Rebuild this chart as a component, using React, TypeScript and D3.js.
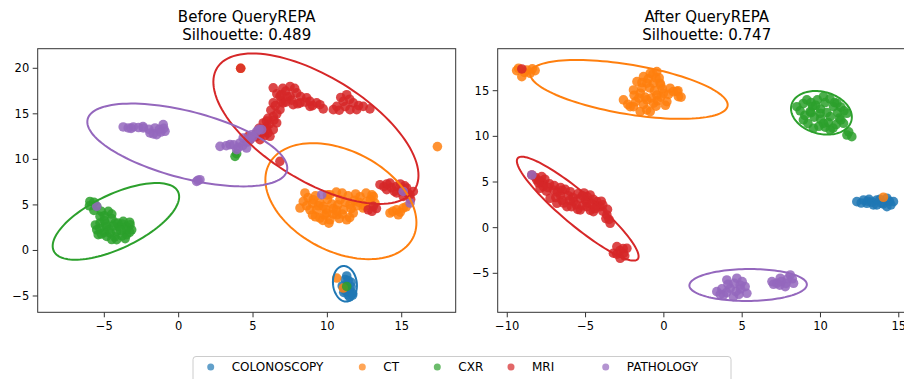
import React from "react";
import * as d3 from "d3";

type Pt = [number, number];

// ---- data -------------------------------------------------------------
const categories = ["COLONOSCOPY", "CT", "CXR", "MRI", "PATHOLOGY"];
const palette = ["#1f77b4", "#ff7f0e", "#2ca02c", "#d62728", "#9467bd"];

const panelTitles = ["Before QueryREPA", "After QueryREPA"];
const silhouettes = [0.489, 0.747];

const beforeXTicks = [-5, 0, 5, 10, 15];
const beforeYTicks = [-5, 0, 5, 10, 15, 20];
const afterXTicks = [-10, -5, 0, 5, 10, 15];
const afterYTicks = [-5, 0, 5, 10, 15];

const beforeXDomain: Pt = [-9.48, 18.63];
const beforeYDomain: Pt = [-6.79, 22.15];
const afterXDomain: Pt = [-10.61, 16.08];
const afterYDomain: Pt = [-9.27, 19.6];

// before: scatter points per category
const beforeColonoscopy: Pt[] = [
  [11.2, -3.2], [11.3, -3.8], [11.5, -4.3], [11.4, -4.9], [11.1, -4.6],
  [11.6, -3.5], [11.0, -3.9], [11.7, -4.7], [11.3, -2.8], [11.5, -5.1],
  [11.3, -4.1], [11.6, -4.0], [11.2, -4.4], [11.5, -4.6], [11.4, -3.3], [11.7, -4.9],
];
const beforeCT: Pt[] = [
  [8.49, 6.31], [8.38, 5.38], [9.05, 5.57], [8.83, 4.47], [9.72, 4.84],
  [9.5, 3.56], [10.17, 3.37], [10.63, 3.92], [10.17, 6.12], [10.85, 5.57],
  [11.52, 5.02], [11.3, 3.37], [11.74, 4.11], [12.41, 4.66], [12.64, 5.38],
  [13.09, 5.93], [11.07, 4.47], [9.95, 4.11], [9.28, 4.47], [8.16, 4.66],
  [9.5, 5.2], [10.4, 4.6], [10.0, 5.6], [11.0, 4.0], [11.8, 5.5], [9.0, 3.9],
  [12.0, 4.9], [10.6, 6.4], [11.4, 6.0], [12.2, 5.9],
  [8.7, 5.8], [9.2, 6.0], [9.4, 4.9], [9.9, 4.5], [10.3, 5.1], [10.7, 5.0],
  [11.2, 5.3], [11.6, 4.6], [12.1, 5.3], [12.5, 4.9], [12.9, 5.6], [13.2, 5.2],
  [9.2, 3.7], [9.8, 3.9], [10.4, 4.0], [10.8, 3.5], [10.6, 4.4], [8.6, 4.9],
  [9.0, 5.2], [10.0, 6.1], [11.0, 6.3], [11.9, 6.2], [12.6, 6.3], [13.0, 6.1],
  [9.7, 3.3], [10.1, 3.0], [11.5, 3.6],
  [14.21, 4.11], [14.66, 4.47], [15.1, 4.66], [14.77, 3.92], [14.4, 4.3], [14.9, 4.2], [15.3, 4.8],
  [17.4, 11.4], [4.17, 20.0], [10.63, -3.03], [11.07, -4.13],
];
const beforeCXR: Pt[] = [
  [-5.97, 5.38], [-5.51, 4.84], [-5.29, 3.74], [-4.73, 4.29], [-5.51, 2.27],
  [-4.84, 1.54], [-4.17, 1.18], [-3.5, 1.73], [-3.27, 2.82], [-3.73, 3.19],
  [-4.28, 3.01], [-4.84, 2.64], [-4.17, 2.09], [-3.5, 2.27], [-5.29, 3.01],
  [-5.41, 1.73], [-3.16, 2.27], [-4.5, 3.5], [-4.0, 2.6], [-4.6, 1.9],
  [-3.8, 1.6], [-5.0, 3.3], [-5.2, 4.3],
  [-5.6, 2.8], [-5.3, 2.4], [-5.0, 2.0], [-4.7, 2.3], [-4.4, 2.7], [-4.1, 3.0],
  [-3.8, 2.9], [-3.5, 2.6], [-3.3, 2.0], [-3.6, 1.3], [-3.9, 2.2], [-4.3, 1.5],
  [-4.9, 2.9], [-5.0, 3.8], [-4.5, 4.0], [-5.7, 4.4], [-6.0, 4.9], [-5.7, 5.3],
  [-3.3, 3.1], [-4.5, 1.2], [-5.2, 1.8],
  [3.79, 10.33], [3.9, 10.63], [11.3, -3.95],
];
const beforeMRI: Pt[] = [
  [6.36, 17.85], [7.49, 18.0], [6.81, 16.92], [7.94, 17.3], [8.61, 16.75],
  [8.83, 15.82], [9.5, 16.0], [9.72, 15.54], [8.16, 16.2], [6.36, 16.2],
  [6.81, 15.46], [6.36, 14.73], [6.59, 14.0], [5.92, 13.63], [5.69, 12.9],
  [5.47, 12.16], [6.36, 13.26], [7.03, 16.2], [7.49, 16.92], [8.83, 16.37],
  [9.28, 16.2], [7.2, 17.5], [6.9, 16.4], [7.6, 16.5], [8.2, 16.9], [6.0, 14.5],
  [6.2, 15.4], [5.4, 13.4], [9.0, 15.9],
  [6.6, 17.2], [7.0, 17.8], [7.8, 17.8], [7.3, 16.9], [8.0, 16.1], [8.5, 16.3],
  [6.5, 15.9], [6.6, 15.0], [6.1, 13.9], [6.4, 14.3], [5.8, 12.6], [5.2, 12.5], [6.0, 12.9],
  [5.9, 14.2], [6.9, 17.1], [7.2, 16.3], [7.7, 16.0], [5.6, 13.1],
  [10.63, 15.82], [11.3, 17.1], [11.07, 16.37], [11.74, 16.2], [11.97, 15.46],
  [12.41, 15.82], [12.86, 15.54], [10.4, 15.46], [11.52, 15.46], [10.9, 16.8],
  [11.5, 16.6], [12.1, 15.9], [11.2, 15.8], [10.8, 15.4],
  [5.25, 12.9], [5.69, 14.0], [6.14, 12.53], [4.8, 12.16], [4.68, 12.53],
  [5.92, 13.26], [6.81, 9.78],
  [13.54, 7.22], [14.21, 7.4], [14.66, 7.03], [15.33, 6.86], [15.56, 6.12],
  [15.1, 5.93], [13.99, 6.67], [13.09, 4.84], [12.75, 4.47], [14.66, 6.31],
  [15.78, 6.48], [14.9, 7.3], [15.6, 5.6],
  [13.8, 7.0], [14.3, 6.9], [14.5, 6.5], [15.0, 6.5], [15.4, 6.3], [15.2, 7.1],
  [14.0, 7.3], [13.3, 4.6], [13.0, 4.3],
  [4.17, 20.0],
];
const beforePathology: Pt[] = [
  [-3.73, 13.56], [-3.05, 13.56], [-2.38, 13.45], [-1.93, 12.9], [-1.48, 12.71],
  [-1.04, 13.81], [-0.92, 13.08], [-1.59, 13.45], [-3.39, 13.45], [-2.7, 13.5],
  [-1.3, 13.3], [-3.2, 13.4], [-2.0, 13.3], [-1.7, 12.8], [-1.2, 13.0],
  [-1.0, 13.4], [-2.4, 13.6],
  [2.78, 11.43], [3.45, 11.62], [4.12, 11.8], [4.57, 11.25], [4.8, 12.16],
  [5.25, 13.08], [5.58, 13.26], [3.9, 11.07], [4.34, 12.35], [4.91, 12.71],
  [3.2, 11.5], [3.7, 11.6], [4.3, 11.5], [4.6, 11.9], [4.0, 11.3], [5.0, 12.5], [5.4, 13.3],
  [1.21, 7.58], [1.43, 7.77], [1.3, 7.7],
  [15.1, 6.48], [15.56, 5.21], [9.62, 6.12], [-5.51, 4.84],
];

// after: scatter points per category
const afterColonoscopy: Pt[] = [
  [12.32, 2.85], [12.96, 2.67], [13.6, 3.03], [14.24, 3.22], [14.66, 2.85],
  [14.24, 2.3], [13.38, 2.49], [12.75, 3.03], [13.9, 2.7], [13.1, 3.1],
  [12.6, 2.7], [13.0, 2.9], [13.3, 2.8], [13.8, 3.1], [14.0, 2.6], [14.4, 2.9],
  [14.5, 2.5], [13.6, 2.5],
];
const afterCT: Pt[] = [
  [-9.28, 17.46], [-8.75, 17.27], [-8.22, 17.2], [-9.07, 16.54], [-8.54, 16.91],
  [-8.9, 17.0], [-9.4, 17.2], [-8.4, 17.4],
  [-2.58, 13.99], [-1.94, 13.25], [-1.51, 12.71], [-1.09, 15.82], [-0.87, 16.91],
  [-0.45, 17.09], [-0.24, 15.82], [-0.03, 14.72], [0.4, 15.27], [0.93, 14.35],
  [0.83, 14.9], [-1.51, 14.72], [-1.09, 13.99], [-0.66, 13.63], [-0.45, 14.53],
  [-1.94, 15.08], [-1.3, 16.54], [-0.66, 15.82], [0.19, 13.8], [-2.15, 13.25],
  [-0.87, 12.71], [-1.72, 15.99], [-0.3, 16.4], [-1.2, 14.3], [-0.1, 15.2],
  [-2.3, 13.5], [-1.8, 13.8], [-1.6, 14.2], [-1.3, 13.5], [-0.8, 14.2], [-0.4, 13.9],
  [-0.2, 14.3], [0.3, 14.6], [0.6, 14.9], [0.9, 15.0], [1.1, 14.3], [-1.4, 15.3],
  [-0.9, 15.3], [-0.6, 15.0], [-0.2, 15.6], [-0.5, 16.4], [-1.0, 16.3], [-0.7, 16.8],
  [-1.4, 15.9], [-1.9, 14.5], [-1.1, 12.9], [-0.5, 13.3], [0.1, 13.4],
  [14.02, 3.33],
];
const afterCXR: Pt[] = [
  [8.49, 13.25], [9.13, 13.99], [10.19, 14.35], [11.05, 13.63], [11.69, 12.53],
  [11.47, 11.43], [10.62, 10.7], [9.55, 10.89], [8.91, 11.8], [9.98, 12.53],
  [10.62, 12.16], [9.34, 12.71], [10.83, 13.25], [10.19, 11.43], [9.5, 13.3],
  [10.0, 13.0], [10.5, 11.5], [11.2, 12.0], [9.0, 12.3], [10.0, 11.9], [9.8, 14.0],
  [8.7, 12.8], [8.9, 13.6], [9.4, 13.7], [9.7, 13.4], [10.3, 13.7], [10.6, 14.1],
  [10.9, 13.7], [11.3, 13.2], [11.5, 12.8], [11.1, 12.6], [10.4, 12.6], [9.6, 12.1],
  [9.2, 11.4], [9.9, 11.1], [10.3, 11.0], [11.0, 11.3], [11.3, 11.8], [10.8, 10.9],
  [9.4, 12.6], [11.8, 10.5],
  [11.69, 10.15], [12.0, 9.97],
];
const afterMRI: Pt[] = [
  [-9.07, 17.38],
  [-8.43, 5.77], [-8.11, 5.22], [-7.69, 4.86], [-7.05, 4.13], [-6.62, 3.58],
  [-5.98, 3.94], [-5.34, 3.22], [-4.71, 3.58], [-4.28, 2.85], [-4.07, 2.3],
  [-3.64, 1.39], [-3.43, 0.48], [-6.19, 2.3], [-5.34, 1.94], [-6.83, 2.67],
  [-7.9, 4.31], [-7.26, 3.22], [-5.77, 2.85], [-4.92, 2.3], [-4.5, 1.75],
  [-7.5, 4.0], [-6.5, 3.0], [-5.6, 2.5], [-6.3, 4.2], [-5.0, 3.0],
  [-8.2, 5.5], [-7.9, 5.1], [-7.6, 5.3], [-7.3, 4.8], [-7.0, 4.6], [-6.8, 3.9],
  [-6.5, 4.1], [-6.1, 3.5], [-5.8, 3.3], [-5.5, 3.7], [-5.1, 3.8], [-4.9, 3.4],
  [-4.5, 3.1], [-4.3, 2.4], [-3.9, 1.8], [-3.7, 1.0], [-3.5, 0.9], [-6.9, 3.3],
  [-6.4, 2.7], [-5.9, 2.3], [-5.5, 2.0], [-4.7, 1.9], [-4.9, 2.7], [-5.2, 2.4],
  [-7.7, 4.5], [-8.0, 4.9],
  [-7.8, 5.6], [-7.4, 4.4], [-6.6, 4.4], [-6.0, 3.0], [-5.2, 3.5], [-4.6, 2.6],
  [-4.0, 2.9], [-3.9, 2.5], [-3.6, 2.0], [-4.4, 2.1],
  [-3.0, -2.08], [-2.58, -2.8], [-2.79, -3.35], [-2.36, -2.26], [-3.22, -2.8],
  [-2.8, -2.5], [-2.6, -2.3], [-3.0, -2.9], [-2.5, -3.1],
];
const afterPathology: Pt[] = [
  [3.38, -7.01], [4.02, -5.73], [4.66, -5.54], [5.19, -6.46], [5.3, -7.19],
  [4.44, -7.56], [3.81, -7.37], [4.23, -6.64], [4.87, -6.28], [4.6, -7.0],
  [3.7, -6.7], [4.1, -6.2], [4.5, -6.1], [4.9, -6.7], [4.0, -7.1], [4.8, -7.3],
  [3.6, -7.3], [5.0, -5.9],
  [6.9, -5.91], [7.43, -5.54], [8.07, -5.18], [8.28, -6.09], [7.75, -6.46],
  [7.21, -6.09], [7.0, -6.2], [7.5, -5.9], [7.9, -5.6], [7.8, -6.1], [8.2, -5.6],
  [7.4, -6.3],
  [-8.43, 5.77],
];

// confidence ellipses: center, two conjugate semi-axes (data units)
const beforeEllipses = [
  { cat: 0, c: [11.18, -3.66], u: [0.1, -1.95], v: [0.8, 0.05] },
  { cat: 1, c: [10.91, 5.41], u: [4.84, -4.04], v: [-1.54, -4.92] },
  { cat: 2, c: [-4.22, 3.19], u: [4.18, 3.25], v: [0.78, -2.68] },
  { cat: 3, c: [9.23, 13.37], u: [6.65, -6.66], v: [-1.83, -4.88] },
  { cat: 4, c: [0.58, 11.58], u: [6.7, -2.84], v: [-0.56, -3.55] },
];
const afterEllipses = [
  { cat: 1, c: [-2.23, 15.14], u: [6.3, -1.81], v: [-0.26, -2.67] },
  { cat: 2, c: [10.06, 12.58], u: [1.91, -0.88], v: [-0.35, -2.22] },
  { cat: 3, c: [-5.5, 2.08], u: [3.83, -5.53], v: [-0.66, -1.34] },
  { cat: 4, c: [5.38, -6.28], u: [3.75, 0.05], v: [0, -1.75] },
];

const beforeSeries = [beforeColonoscopy, beforeCT, beforeCXR, beforeMRI, beforePathology];
const afterSeries = [afterColonoscopy, afterCT, afterCXR, afterMRI, afterPathology];

// ---- layout -----------------------------------------------------------
const W = 904;
const H = 379;
const FONT = "DejaVu Sans, sans-serif";
const panels = [
  { left: 37.7, right: 455.7, xDomain: beforeXDomain, yDomain: beforeYDomain, xTicks: beforeXTicks, yTicks: beforeYTicks, series: beforeSeries, ellipses: beforeEllipses },
  { left: 497.7, right: 915.7, xDomain: afterXDomain, yDomain: afterYDomain, xTicks: afterXTicks, yTicks: afterYTicks, series: afterSeries, ellipses: afterEllipses },
];
const plotTop = 48.7;
const plotBottom = 312.3;
const legendItemX = [210.7, 362.3, 437.3, 511, 605.7];

const fmt = (v: number) => (v < 0 ? "\u2212" + Math.abs(v) : String(v));

function Panel({ p, i }: { p: (typeof panels)[number]; i: number }) {
  const x = d3.scaleLinear().domain(p.xDomain).range([p.left, p.right]);
  const y = d3.scaleLinear().domain(p.yDomain).range([plotBottom, plotTop]);
  const cx = (p.left + p.right) / 2;
  const ts = d3.range(0, 121).map((k) => (k / 120) * Math.PI * 2);
  const ell = d3.line<number>().curve(d3.curveLinearClosed);

  return (
    <g>
      <text x={cx} y={21.5} textAnchor="middle" fontSize={15} fill="#000">{panelTitles[i]}</text>
      <text x={cx} y={40} textAnchor="middle" fontSize={15} fill="#000">
        {"Silhouette: " + silhouettes[i].toFixed(3)}
      </text>

      {p.series.map((pts, ci) => (
        <g key={ci} fill={palette[ci]} fillOpacity={0.85}>
          {pts.map((d, k) => (
            <circle key={k} cx={x(d[0])} cy={y(d[1])} r={4.8} />
          ))}
        </g>
      ))}

      {p.ellipses.map((e, k) => {
        const path = ell
          .x((t) => x(e.c[0] + e.u[0] * Math.cos(t) + e.v[0] * Math.sin(t)))
          .y((t) => y(e.c[1] + e.u[1] * Math.cos(t) + e.v[1] * Math.sin(t)))(ts);
        return <path key={k} d={path || ""} fill="none" stroke={palette[e.cat]} strokeWidth={2} />;
      })}

      <rect x={p.left} y={plotTop} width={p.right - p.left} height={plotBottom - plotTop} fill="none" stroke="#333" strokeWidth={1} />

      {p.xTicks.map((t) => (
        <g key={"x" + t} transform={`translate(${x(t)},${plotBottom})`}>
          <line y2={5} stroke="#333" />
          <text y={18} textAnchor="middle" fontSize={11.5} fill="#000">{fmt(t)}</text>
        </g>
      ))}
      {p.yTicks.map((t) => (
        <g key={"y" + t} transform={`translate(${p.left},${y(t)})`}>
          <line x2={-5} stroke="#333" />
          <text x={-8.5} dy="0.35em" textAnchor="end" fontSize={11.5} fill="#000">{fmt(t)}</text>
        </g>
      ))}
    </g>
  );
}

export default function App() {
  return (
    <svg
      width={W}
      height={H}
      style={{ position: "absolute", left: 0, top: 0, background: "#fff" }}
      fontFamily={FONT}
    >
      <rect width={W} height={H} fill="#fff" />
      {panels.map((p, i) => (
        <Panel key={i} p={p} i={i} />
      ))}
      <rect x={193} y={356.5} width={538} height={30} rx={3} fill="#fff" stroke="#ccc" strokeWidth={1} />
      {categories.map((c, i) => (
        <g key={c}>
          <circle cx={legendItemX[i]} cy={367} r={3.5} fill={palette[i]} fillOpacity={0.7} />
          <text x={legendItemX[i] + 21} y={371.3} fontSize={12} fill="#000">{c}</text>
        </g>
      ))}
    </svg>
  );
}
